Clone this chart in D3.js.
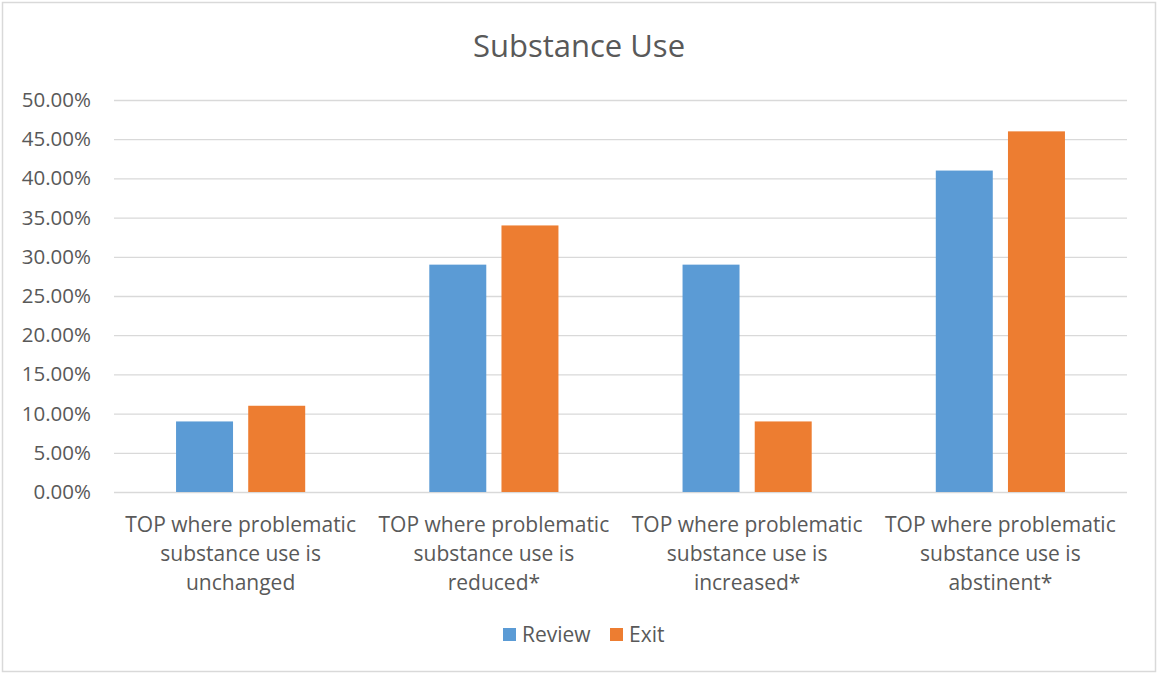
<!DOCTYPE html>
<html>
<head>
<meta charset="utf-8">
<script src="https://cdn.jsdelivr.net/npm/d3@7"></script>
<style>
  html, body { margin: 0; padding: 0; background: #fff; }
  svg text { font-family: "Open Sans", sans-serif; fill: #595959; }
</style>
</head>
<body>
<svg id="chart" width="1157" height="673"></svg>
<script>
// Chart data
const categories = [
  ["TOP where problematic", "substance use is", "unchanged"],
  ["TOP where problematic", "substance use is", "reduced*"],
  ["TOP where problematic", "substance use is", "increased*"],
  ["TOP where problematic", "substance use is", "abstinent*"]
];
const seriesNames = ["Review", "Exit"];
const reviewValues = [0.09, 0.29, 0.29, 0.41];
const exitValues = [0.11, 0.34, 0.09, 0.46];
const yTicks = [0, 0.05, 0.10, 0.15, 0.20, 0.25, 0.30, 0.35, 0.40, 0.45, 0.50];
const colors = ["#5B9BD5", "#ED7D31"];

const W = 1157, H = 673;
const svg = d3.select("#chart");

// Outer chart frame
svg.append("rect")
  .attr("x", 2.5).attr("y", 2.5)
  .attr("width", W - 4).attr("height", H - 4)
  .attr("fill", "#fff").attr("stroke", "#D9D9D9").attr("stroke-width", 1.5);

// Title
svg.append("text")
  .attr("x", 579).attr("y", 57)
  .attr("text-anchor", "middle")
  .style("font-size", "31px")
  .text("Substance Use");

const plot = { left: 114, right: 1127, top: 100, bottom: 492 };

const x0 = d3.scaleBand()
  .domain(d3.range(categories.length))
  .range([plot.left, plot.right]);

const barW = x0.bandwidth() * 0.225;
const barGap = x0.bandwidth() * 0.06;

const y = d3.scaleLinear().domain([0, 0.5]).range([plot.bottom, plot.top]);

// Gridlines and y labels
const yAxis = d3.axisLeft(y)
  .tickValues(yTicks)
  .tickSize(-(plot.right - plot.left))
  .tickPadding(23)
  .tickFormat(d3.format(".2%"));

const gy = svg.append("g")
  .attr("transform", `translate(${plot.left},0)`)
  .call(yAxis);
gy.select(".domain").remove();
gy.selectAll(".tick line").attr("stroke", "#D9D9D9").attr("stroke-width", 1.3);
gy.selectAll(".tick text")
  .style("font-size", "20.5px")
  .attr("fill", "#595959")
  .attr("font-family", "'Open Sans', sans-serif");

// Bars
const series = [reviewValues, exitValues];
series.forEach((vals, s) => {
  svg.append("g").selectAll("rect")
    .data(vals)
    .join("rect")
    .attr("x", (d, i) => x0(i) + x0.bandwidth() / 2 + (s === 0 ? -barGap / 2 - barW : barGap / 2))
    .attr("y", d => y(d))
    .attr("width", barW)
    .attr("height", d => y(0) - y(d))
    .attr("fill", colors[s]);
});

// Category labels
categories.forEach((lines, i) => {
  const t = svg.append("text")
    .attr("text-anchor", "middle")
    .style("font-size", "21px");
  lines.forEach((ln, j) => {
    t.append("tspan")
      .attr("x", x0(i) + x0.bandwidth() / 2)
      .attr("y", 532 + j * 29)
      .text(ln);
  });
});

// Legend
const legendItems = [
  { name: seriesNames[0], color: colors[0], x: 503 },
  { name: seriesNames[1], color: colors[1], x: 610 }
];
legendItems.forEach(it => {
  svg.append("rect")
    .attr("x", it.x).attr("y", 628)
    .attr("width", 13).attr("height", 13)
    .attr("fill", it.color);
  svg.append("text")
    .attr("x", it.x + 19).attr("y", 642)
    .style("font-size", "21px")
    .text(it.name);
});
</script>
</body>
</html>
